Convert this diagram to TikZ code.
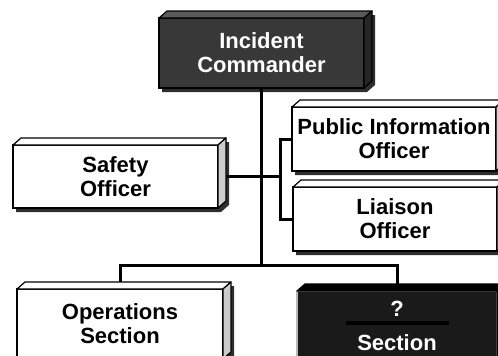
\documentclass[tikz,border=0pt]{standalone}
\usepackage{fontspec}
\setmainfont{Liberation Sans}
\usetikzlibrary{calc}

\definecolor{icfront}{HTML}{383838}
\definecolor{ictop}{HTML}{5A5A5A}
\definecolor{icside}{HTML}{262626}
\definecolor{secfront}{HTML}{1A1A1A}
\definecolor{lightside}{HTML}{CCCCCC}
\definecolor{shade}{HTML}{2E2E2E}

\pgfdeclarelayer{back}
\pgfsetlayers{back,main}

% top face, side face and drop shadow of a box
\newcommand{\boxbevel}[3]{%
  \begin{pgfonlayer}{back}
    \fill[boxshadow] ($(#1.south west)+(3,4)$) -- ($(#1.north west)+(3,4)$)
      -- ($(#1.north west)+(11,-3)$) -- ($(#1.north east)+(11,-3)$)
      -- ($(#1.south east)+(11,-3)$) -- ($(#1.south east)+(3,4)$) -- cycle;
  \end{pgfonlayer}
  \filldraw[face,fill=#2] (#1.north west) -- ($(#1.north west)+(8,-7)$)
    -- ($(#1.north east)+(8,-7)$) -- (#1.north east) -- cycle;
  \filldraw[face,fill=#3] (#1.north east) -- ($(#1.north east)+(8,-7)$)
    -- ($(#1.south east)+(8,-7)$) -- (#1.south east) -- cycle;
}

\begin{document}
\begin{tikzpicture}[
  x=1pt,
  y=-1pt,
  font=\bfseries\fontsize{22}{24}\selectfont,
  conn/.style={draw=black,line width=3pt},
  face/.style={draw=black,line width=1.2pt,line join=round},
  boxshadow/.style={fill=shade},
  card/.style={draw=black,line width=1.2pt,fill=white,minimum width=205pt,
    minimum height=64pt,inner sep=0pt,outer sep=0pt,align=center,anchor=north west},
  darkcard/.style={card,fill=icfront,text=white},
  blackcard/.style={card,fill=secfront,draw=gray!55,text=white}
]
\useasboundingbox (0,0) rectangle (498,356);

% Boxes
\node[darkcard,minimum height=70pt] (ic) at (159,18) {Incident\\Commander};
\node[card,minimum height=63pt] (safety) at (13,145) {Safety\\Officer};
\node[card,minimum width=204pt] (pio) at (292,107) {Public Information\\Officer};
\node[card,minimum width=204pt] (liaison) at (293,187) {Liaison\\Officer};
\node[card,minimum width=206pt,minimum height=70pt] (ops) at (17,289) {Operations\\Section};
\node[blackcard,minimum width=200pt,minimum height=70pt] (sec) at (297,291) {?\\[10pt]Section};

\boxbevel{ic}{ictop}{icside}
\boxbevel{safety}{white}{lightside}
\boxbevel{pio}{white}{lightside}
\boxbevel{liaison}{white}{lightside}
\boxbevel{ops}{white}{lightside}
\boxbevel{sec}{black}{black}

% blank line in the section box
\draw[line width=3.5pt,black] ($(sec.center)+(-51,-3)$) -- ($(sec.center)+(52,-3)$);

% Connectors
\coordinate (busy) at (0,265);
\coordinate (brk) at (280,177);
\begin{pgfonlayer}{back}
  \draw[conn] (ic.south) -- (ic.south |- busy);
  \draw[conn] (ops.north) |- (sec.north |- busy) -- (sec.north);
  \draw[conn] (safety.east) -- (safety.east -| brk);
  \draw[conn] (pio.west) -| (brk) |- (liaison.west);
\end{pgfonlayer}

\end{tikzpicture}
\end{document}
